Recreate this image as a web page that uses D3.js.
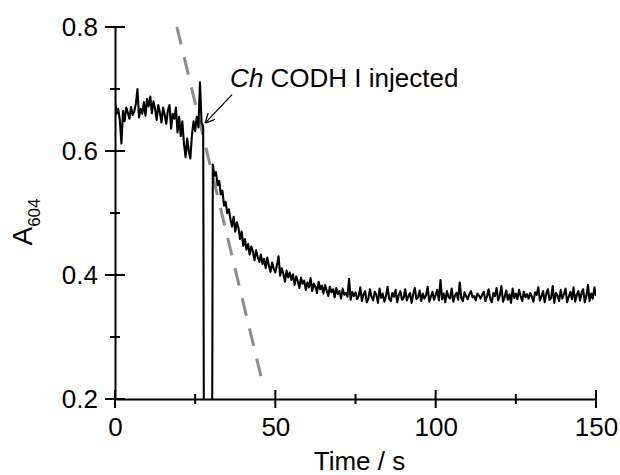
<!DOCTYPE html>
<html>
<head>
<meta charset="utf-8">
<script src="https://cdn.jsdelivr.net/npm/d3@7"></script>
<style>
  body { margin: 0; background: #fff; }
  text { font-family: "Liberation Sans", Arial, sans-serif; fill: #000; }
</style>
</head>
<body>
<div id="chart"></div>
<script>
// sampling of the trace (s)
const tStart = 0, tStep = 0.5;

// A604, one value every 0.5 s (values below 0.2 are off-scale)
const absorbance = [
  0.680, 0.660, 0.668, 0.650, 0.612, 0.665, 0.648, 0.670, 0.662, 0.652,
  0.671, 0.658, 0.664, 0.676, 0.700, 0.654, 0.668, 0.660, 0.679, 0.657,
  0.684, 0.672, 0.688, 0.661, 0.680, 0.668, 0.650, 0.674, 0.662, 0.646,
  0.670, 0.658, 0.644, 0.666, 0.674, 0.636, 0.660, 0.652, 0.670, 0.630,
  0.655, 0.624, 0.648, 0.612, 0.590, 0.620, 0.600, 0.588, 0.626, 0.648,
  0.632, 0.655, 0.638, 0.711, 0.645, 0.640, -0.5, -0.5, -0.5, -0.5,
  -0.5, 0.578, 0.560, 0.566, 0.545, 0.552, 0.530, 0.536, 0.512, 0.518,
  0.500, 0.506, 0.490, 0.478, 0.494, 0.470, 0.485, 0.476, 0.458, 0.470,
  0.447, 0.458, 0.441, 0.450, 0.433, 0.446, 0.438, 0.424, 0.440, 0.429,
  0.421, 0.433, 0.418, 0.426, 0.411, 0.428, 0.415, 0.405, 0.420, 0.410,
  0.404, 0.416, 0.430, 0.399, 0.411, 0.402, 0.389, 0.407, 0.396, 0.404,
  0.392, 0.401, 0.384, 0.398, 0.390, 0.379, 0.396, 0.386, 0.391, 0.376,
  0.388, 0.380, 0.395, 0.374, 0.386, 0.381, 0.371, 0.389, 0.377, 0.383,
  0.370, 0.384, 0.375, 0.366, 0.381, 0.372, 0.377, 0.364, 0.379, 0.369,
  0.374, 0.362, 0.378, 0.368, 0.371, 0.365, 0.394, 0.360, 0.373, 0.366,
  0.372, 0.361, 0.366, 0.380, 0.358, 0.369, 0.374, 0.356, 0.362, 0.377,
  0.365, 0.359, 0.373, 0.368, 0.355, 0.378, 0.363, 0.370, 0.357, 0.366,
  0.381, 0.362, 0.358, 0.371, 0.365, 0.376, 0.356, 0.368, 0.374, 0.360,
  0.363, 0.377, 0.359, 0.366, 0.371, 0.355, 0.369, 0.379, 0.361, 0.364,
  0.375, 0.358, 0.370, 0.362, 0.367, 0.381, 0.357, 0.365, 0.373, 0.360,
  0.368, 0.376, 0.359, 0.392, 0.361, 0.370, 0.356, 0.374, 0.365, 0.362,
  0.378, 0.357, 0.367, 0.371, 0.360, 0.388, 0.363, 0.358, 0.372, 0.366,
  0.361, 0.369, 0.374, 0.364, 0.366, 0.359, 0.370, 0.367, 0.362, 0.368,
  0.373, 0.358, 0.365, 0.377, 0.362, 0.356, 0.371, 0.366, 0.379, 0.359,
  0.367, 0.382, 0.357, 0.364, 0.375, 0.360, 0.369, 0.355, 0.378, 0.363,
  0.370, 0.361, 0.376, 0.366, 0.358, 0.373, 0.364, 0.369, 0.362, 0.371,
  0.365, 0.357, 0.372, 0.368, 0.380, 0.359, 0.366, 0.374, 0.356, 0.370,
  0.377, 0.360, 0.363, 0.382, 0.355, 0.371, 0.367, 0.358, 0.376, 0.362,
  0.369, 0.378, 0.356, 0.365, 0.373, 0.361, 0.380, 0.357, 0.368, 0.374,
  0.359, 0.371, 0.377, 0.356, 0.366, 0.384, 0.358, 0.370, 0.362, 0.380,
  0.366
];

// initial-rate line (time, A604)
const fitTime = [19.3, 46.3];
const fitA = [0.80, 0.22];

// axes
const xDomain = [0, 150];
const yDomain = [0.2, 0.8];
const xMajor = [0, 50, 100, 150];
const xMinor = [25, 75, 125];
const yMajor = [0.2, 0.4, 0.6, 0.8];
const yMinor = [0.3, 0.5, 0.7];

// annotation: label anchor and arrow tail/tip (time, A604)
const noteLabel = { t: 35.9, a: 0.704 };
const noteArrow = [[36.5, 0.691], [28.1, 0.645]];

const margin = {top: 27, right: 24, bottom: 76, left: 115},
    width = 620 - margin.left - margin.right,
    height = 475 - margin.top - margin.bottom;

const svg = d3.select("#chart")
  .append("svg")
    .attr("width", 620)
    .attr("height", 475)
  .append("g")
    .attr("transform", `translate(${margin.left},${margin.top})`);

const x = d3.scaleLinear().domain(xDomain).range([0, width]);
const y = d3.scaleLinear().domain(yDomain).range([height, 0]);

svg.append("clipPath")
    .attr("id", "plot-clip")
  .append("rect")
    .attr("x", 0)
    .attr("y", 0)
    .attr("width", width)
    .attr("height", height);

// dashed initial-rate line
svg.append("line")
    .attr("x1", x(fitTime[0])).attr("y1", y(fitA[0]))
    .attr("x2", x(fitTime[1])).attr("y2", y(fitA[1]))
    .attr("stroke", "#8c8c8c")
    .attr("stroke-width", 3)
    .attr("stroke-dasharray", "18,13");

// the trace
const trace = absorbance.map((a, i) => [tStart + i * tStep, a]);
svg.append("path")
    .datum(trace)
    .attr("clip-path", "url(#plot-clip)")
    .attr("fill", "none")
    .attr("stroke", "#000")
    .attr("stroke-width", 2.1)
    .attr("stroke-linejoin", "round")
    .attr("d", d3.line().x(d => x(d[0])).y(d => y(d[1])));

// axes: labels through d3.axis, ticks crossing the axis line
const xAxis = svg.append("g")
    .attr("transform", `translate(0,${height})`)
    .call(d3.axisBottom(x).tickValues(xMajor).tickSize(0).tickPadding(19).tickFormat(d3.format("d")));
const yAxis = svg.append("g")
    .call(d3.axisLeft(y).tickValues(yMajor).tickSize(0).tickPadding(17).tickFormat(d3.format(".1f")));

[xAxis, yAxis].forEach(g => {
  g.select(".domain").attr("stroke", "#000").attr("stroke-width", 2);
  g.selectAll("text").style("font-size", "26px").style("font-family", "'Liberation Sans', Arial, sans-serif");
});

const tickStyle = sel => sel.attr("stroke", "#000").attr("stroke-width", 2);

svg.append("g").selectAll("line")
  .data(xMajor.map(v => [v, 9]).concat(xMinor.map(v => [v, 5])))
  .join("line")
    .attr("x1", d => x(d[0])).attr("x2", d => x(d[0]))
    .attr("y1", d => height - d[1]).attr("y2", d => height + d[1])
    .call(tickStyle);

svg.append("g").selectAll("line")
  .data(yMajor.map(v => [v, 10]).concat(yMinor.map(v => [v, 5])))
  .join("line")
    .attr("y1", d => y(d[0])).attr("y2", d => y(d[0]))
    .attr("x1", d => -d[1]).attr("x2", d => d[1])
    .call(tickStyle);

// axis titles
svg.append("text")
    .attr("x", width / 2 + 4)
    .attr("y", height + 71)
    .attr("text-anchor", "middle")
    .style("font-size", "26px")
    .text("Time / s");

const yTitle = svg.append("text")
    .attr("transform", `translate(${-83},${height / 2 + 9}) rotate(-90)`)
    .attr("text-anchor", "middle")
    .style("font-size", "28px");
yTitle.append("tspan").text("A");
yTitle.append("tspan").attr("dy", 8).style("font-size", "17px").text("604");

// annotation
const note = svg.append("text")
    .attr("x", x(noteLabel.t))
    .attr("y", y(noteLabel.a))
    .style("font-size", "26px");
note.append("tspan").style("font-style", "italic").text("Ch");
note.append("tspan").text(" CODH I injected");

svg.append("defs").append("marker")
    .attr("id", "open-arrow")
    .attr("viewBox", "0 0 10 10")
    .attr("refX", 10).attr("refY", 5)
    .attr("markerWidth", 10).attr("markerHeight", 10)
    .attr("markerUnits", "userSpaceOnUse")
    .attr("orient", "auto")
  .append("path")
    .attr("d", "M0,0 L10,5 L0,10")
    .attr("fill", "none")
    .attr("stroke", "#000")
    .attr("stroke-width", 1.3);

svg.append("line")
    .attr("x1", x(noteArrow[0][0])).attr("y1", y(noteArrow[0][1]))
    .attr("x2", x(noteArrow[1][0])).attr("y2", y(noteArrow[1][1]))
    .attr("stroke", "#000")
    .attr("stroke-width", 1.3)
    .attr("marker-end", "url(#open-arrow)");
</script>
</body>
</html>
